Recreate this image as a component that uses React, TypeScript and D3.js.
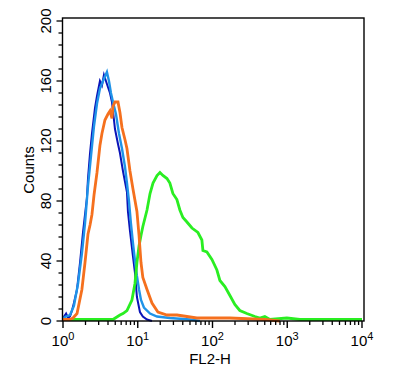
import React from "react";
import * as d3 from "d3";

// FL2-H fluorescence values and counts per histogram
const navyFL = [1.0, 1.1, 1.17, 1.24, 1.32, 1.4, 1.54, 1.69, 1.85, 1.97, 2.09, 2.16, 2.3, 2.44, 2.68, 2.85, 3.12, 3.32, 3.53, 3.87, 4.25, 4.52, 4.96, 5.44, 5.78, 6.34, 6.74, 7.17, 7.39, 7.87, 8.63, 9.18, 9.75, 10.7, 11.7, 13.3, 15.5];
const navyCounts = [2, 5, 2, 3, 7, 12, 21, 39, 59, 71, 82, 95, 112, 125, 142, 150, 160, 157, 164, 158, 152, 146, 128, 118, 112, 100, 93, 86, 73, 60, 43, 32, 16, 6, 3, 1, 0];

const skyFL = [1.0, 1.1, 1.24, 1.4, 1.59, 1.79, 1.97, 2.16, 2.37, 2.6, 2.85, 3.12, 3.43, 3.64, 3.87, 4.12, 4.38, 4.66, 5.11, 5.61, 6.15, 6.74, 7.17, 7.63, 8.11, 8.63, 9.18, 9.75, 10.4, 11.05, 12.1, 14.6, 18.1, 26.9, 49.9, 67.9];
const skyCounts = [2, 3, 4, 10, 25, 45, 65, 90, 110, 130, 145, 155, 160, 163, 166, 160, 152, 146, 138, 125, 115, 103, 92, 80, 65, 52, 40, 30, 21, 14, 9, 5, 3, 2, 1, 0];

const orangeFL = [1.0, 1.24, 1.36, 1.54, 1.79, 1.97, 2.16, 2.3, 2.44, 2.6, 2.85, 3.12, 3.32, 3.64, 4.0, 4.25, 4.52, 4.66, 4.96, 5.44, 5.78, 6.15, 6.74, 7.17, 7.87, 8.63, 9.75, 10.4, 11.05, 11.7, 13.3, 15.5, 18.6, 24.6, 33.4, 45.5, 61.7, 171, 501, 796];
const orangeCounts = [1, 1, 2, 5, 21, 39, 58, 64, 71, 84, 99, 117, 125, 134, 138, 140, 135, 143, 146, 146, 139, 129, 121, 115, 100, 88, 73, 57, 39, 29, 21, 12, 6, 4, 4, 3, 2, 2, 1, 0];

const greenFL = [1.0, 4.66, 5.78, 6.34, 7.17, 8.36, 9.18, 9.75, 10.4, 11.05, 11.7, 13.3, 14.6, 16.0, 18.1, 19.8, 21.7, 24.6, 26.9, 29.5, 33.4, 36.6, 40.2, 45.5, 53.1, 63.8, 72.1, 74.4, 84.1, 98.2, 114.5, 125.6, 146.5, 171, 199, 232, 288, 369, 430, 501, 585, 988, 1476, 10000];
const greenCounts = [1, 1, 4, 5, 7, 14, 25, 39, 50, 57, 63, 74, 85, 92, 97, 99, 97, 95, 92, 85, 81, 74, 69, 66, 62, 59, 54, 47, 46, 41, 34, 27, 23, 17, 11, 7, 5, 3, 2, 3, 1, 2, 1, 1];

const yTickLabels = [0, 40, 80, 120, 160, 200];
const xDecades = [0, 1, 2, 3, 4];

const FONT = "'Liberation Sans', Arial, Helvetica, sans-serif";

export default function App() {
  const x = d3.scaleLog().domain([1, 10000]).range([63, 362]);
  const y = d3.scaleLinear().domain([0, 200]).range([321, 21]);
  const frame = { left: 62.5, right: 364, top: 18, bottom: 321 };

  const line = d3
    .line<[number, number]>()
    .x((d) => x(d[0]))
    .y((d) => y(d[1]))
    .curve(d3.curveLinear);

  const zip = (a: number[], b: number[]) => a.map((v, i) => [v, b[i]] as [number, number]);

  const series = [
    { fl: navyFL, c: navyCounts, color: "#0a14b8", w: 2 },
    { fl: skyFL, c: skyCounts, color: "#1f93e8", w: 2.4 },
    { fl: greenFL, c: greenCounts, color: "#2aee22", w: 2.8 },
    { fl: orangeFL, c: orangeCounts, color: "#f5701e", w: 2.8 },
  ];

  const yMinor = d3.range(0, 201, 8);
  const xMinor: number[] = [];
  for (let dcd = 0; dcd < 4; dcd++) {
    for (let m = 2; m <= 9; m++) xMinor.push(m * Math.pow(10, dcd));
  }

  return (
    <svg
      width={397}
      height={376}
      style={{ position: "absolute", left: 0, top: 0, background: "#fff" }}
      fontFamily={FONT}
    >
      <rect x={0} y={0} width={397} height={376} fill="#fff" />
      {series.map((s, i) => (
        <path
          key={i}
          d={line(zip(s.fl, s.c)) || ""}
          fill="none"
          stroke={s.color}
          strokeWidth={s.w}
          strokeLinejoin="miter"
        />
      ))}
      <rect
        x={frame.left}
        y={frame.top}
        width={frame.right - frame.left}
        height={frame.bottom - frame.top}
        fill="none"
        stroke="#000"
        strokeWidth={1.4}
      />
      {/* y ticks */}
      {yMinor.map((v) => (
        <line
          key={"ym" + v}
          x1={frame.left}
          x2={frame.left - (v % 40 === 0 ? 6 : 4)}
          y1={y(v)}
          y2={y(v)}
          stroke="#000"
          strokeWidth={1.3}
        />
      ))}
      {yTickLabels.map((v) => (
        <text
          key={"yl" + v}
          transform={`translate(50.5,${y(v)}) rotate(-90)`}
          textAnchor="middle"
          fontSize={15}
          fill="#000"
        >
          {v}
        </text>
      ))}
      {/* x ticks */}
      {xMinor.map((v) => (
        <line
          key={"xm" + v}
          x1={x(v)}
          x2={x(v)}
          y1={frame.bottom}
          y2={frame.bottom + 4}
          stroke="#000"
          strokeWidth={1.3}
        />
      ))}
      {xDecades.map((dcd) => (
        <line
          key={"xM" + dcd}
          x1={x(Math.pow(10, dcd))}
          x2={x(Math.pow(10, dcd))}
          y1={frame.bottom}
          y2={frame.bottom + 7}
          stroke="#000"
          strokeWidth={1.4}
        />
      ))}
      {xDecades.map((dcd) => (
        <text
          key={"xl" + dcd}
          x={x(Math.pow(10, dcd))}
          y={346}
          textAnchor="middle"
          fontSize={15}
          fill="#000"
        >
          <tspan>10</tspan>
          <tspan dy={-6} fontSize={11}>
            {dcd}
          </tspan>
        </text>
      ))}
      <text x={210} y={364} textAnchor="middle" fontSize={15} fill="#000">
        FL2-H
      </text>
      <text
        transform={`translate(34,170) rotate(-90)`}
        textAnchor="middle"
        fontSize={15}
        fill="#000"
      >
        Counts
      </text>
    </svg>
  );
}
